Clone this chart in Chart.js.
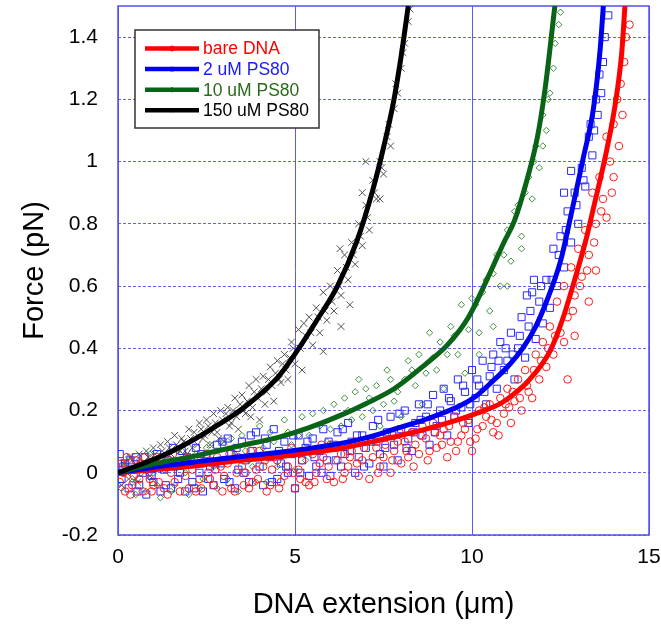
<!DOCTYPE html>
<html><head><meta charset="utf-8">
<script src="https://cdn.jsdelivr.net/npm/chart.js@4"></script>
<style>html,body{margin:0;padding:0;background:#fff;}#wrap{width:661px;height:628px;}</style>
</head><body><div id="wrap"><canvas id="c" width="661" height="628"></canvas></div>
<script>
const seriesLabels = ['bare DNA', '2 uM PS80', '10 uM PS80', '150 uM PS80'];
const xTicks = [0, 5, 10, 15];
const yTicks = [-0.2, 0, 0.2, 0.4, 0.6, 0.8, 1, 1.2, 1.4];

// measured points [extension um, force pN]
const barePts = [[0.05,-0.03],[0.1,0.03],[0.15,0.0],[0.2,-0.06],[0.3,0.01],[0.35,-0.07],[0.4,-0.04],[0.5,0.04],[0.55,0.02],[0.6,-0.02],[0.7,-0.06],[0.75,0.05],[0.85,0.02],[0.95,-0.06],[1.0,-0.04],[1.1,0.05],[1.2,0.02],[1.3,-0.05],[1.4,-0.07],[1.5,0.0],[1.6,-0.03],[1.7,0.03],[1.8,0.04],[1.9,-0.01],[2.0,-0.05],[2.1,0.01],[2.2,-0.06],[2.3,-0.02],[2.4,0.03],[2.5,0.06],[2.6,-0.02],[2.7,-0.04],[2.8,0.05],[2.9,0.02],[3.0,-0.01],[3.1,0.03],[3.2,-0.05],[3.3,-0.06],[3.4,0.05],[3.5,0.02],[3.6,0.0],[3.7,-0.05],[3.8,-0.03],[3.9,0.01],[4.0,0.07],[4.1,0.02],[4.2,-0.06],[4.3,-0.04],[4.4,0.05],[4.5,0.04],[4.6,-0.03],[4.7,-0.01],[4.8,0.02],[4.9,0.08],[5.0,-0.05],[5.1,0.01],[5.2,0.04],[5.3,-0.03],[5.4,-0.04],[5.5,0.06],[5.6,0.0],[5.7,0.03],[5.8,0.05],[5.9,-0.02],[6.0,0.09],[6.1,-0.03],[6.2,0.04],[6.3,0.06],[6.4,0.0],[6.5,0.02],[6.6,0.07],[6.7,0.1],[6.8,-0.01],[6.9,0.04],[7.0,0.1],[7.1,-0.02],[7.2,0.05],[7.3,0.08],[7.4,0.02],[7.5,0.05],[7.6,0.12],[7.7,0.0],[7.8,0.07],[7.9,0.1],[8.0,0.03],[8.1,0.1],[8.2,0.05],[8.3,0.13],[8.4,0.09],[8.5,0.06],[8.6,0.15],[8.7,0.11],[8.8,0.07],[8.9,0.16],[9.0,0.08],[9.1,0.12],[9.2,0.14],[9.3,0.05],[9.4,0.1],[9.5,0.18],[9.6,0.1],[9.7,0.12],[9.8,0.14],[9.9,0.17],[10.0,0.07],[10.1,0.11],[10.2,0.2],[10.3,0.15],[10.4,0.18],[10.5,0.22],[10.6,0.13],[10.7,0.16],[10.8,0.24],[10.9,0.19],[11.0,0.27],[11.05,0.21],[11.1,0.16],[11.2,0.23],[11.3,0.3],[11.4,0.2],[11.5,0.33],[11.6,0.26],[11.7,0.24],[11.8,0.38],[11.9,0.3],[12.0,0.42],[12.1,0.34],[12.2,0.47],[12.3,0.38],[12.4,0.55],[12.5,0.45],[12.6,0.6],[12.7,0.5],[12.7,0.3],[12.8,0.66],[12.9,0.57],[12.9,0.44],[13.0,0.72],[13.1,0.63],[13.2,0.78],[13.3,0.7],[13.3,0.55],[13.4,0.9],[13.5,0.8],[13.5,0.65],[13.6,0.95],[13.7,0.88],[13.8,1.08],[13.8,0.82],[13.9,1.0],[14.0,1.12],[14.0,0.95],[14.1,1.2],[14.2,1.25],[14.3,1.32],[14.35,1.4],[14.45,1.44],
[0.25,0.05],[0.45,-0.01],[0.65,0.03],[0.9,-0.02],[1.15,-0.03],[1.35,0.04],[1.55,0.06],[1.75,-0.06],[1.95,0.05],[2.15,0.03],[2.35,-0.05],[2.55,0.0],[2.75,0.01],[2.95,-0.06],[3.15,0.06],[3.35,0.0],[3.55,-0.04],[3.75,0.07],[3.95,-0.02],[4.15,0.04],[4.35,0.01],[4.55,-0.05],[4.75,0.06],[4.95,0.0],[5.15,-0.02],[5.35,0.07],[5.55,-0.03],[5.75,0.09],[5.95,0.02],[6.15,0.08],[6.35,-0.02],[6.55,0.05],[6.75,0.03],[6.95,0.08],[7.15,0.11],[7.35,0.0],[7.55,0.09],[7.75,0.04],[7.95,0.13],[8.15,0.07],[8.35,0.02],[8.55,0.12],[8.75,0.04],[8.95,0.13],[9.15,0.09],[9.35,0.15],[9.55,0.07],[9.75,0.16],[9.95,0.1],[10.15,0.14],[10.35,0.21],[10.55,0.17],[10.75,0.12],[10.95,0.22],[11.15,0.26],[11.35,0.24],[11.55,0.28],[11.75,0.33],[11.95,0.36],[12.15,0.4],[12.35,0.44],[12.6,0.42],[12.85,0.52],[13.05,0.6],[13.25,0.65],[13.45,0.74],[13.65,0.84],[13.95,0.9],[14.15,1.05],[14.25,1.15]];
const ps2Pts = [[0.05,0.06],[0.1,-0.02],[0.2,0.03],[0.3,-0.05],[0.4,0.01],[0.5,0.05],[0.6,-0.04],[0.7,0.0],[0.8,-0.07],[0.9,0.03],[1.0,-0.03],[1.1,0.06],[1.2,-0.06],[1.3,0.01],[1.4,0.04],[1.5,-0.05],[1.6,0.02],[1.7,-0.02],[1.8,0.07],[1.9,-0.06],[2.0,0.03],[2.1,-0.03],[2.2,0.08],[2.3,0.0],[2.4,-0.06],[2.5,0.05],[2.6,0.02],[2.7,-0.04],[2.8,0.09],[2.9,0.03],[3.0,-0.02],[3.1,0.11],[3.2,0.06],[3.3,-0.05],[3.4,0.01],[3.5,0.1],[3.6,0.04],[3.7,-0.03],[3.8,0.07],[3.9,0.13],[4.0,0.02],[4.1,-0.04],[4.2,0.09],[4.3,0.05],[4.4,0.14],[4.5,-0.02],[4.6,0.03],[4.7,0.1],[4.8,0.0],[4.9,0.06],[5.0,-0.05],[5.1,0.12],[5.2,0.04],[5.3,0.08],[5.4,-0.01],[5.5,0.11],[5.6,0.02],[5.7,0.07],[5.8,0.14],[5.9,0.04],[6.0,-0.01],[6.1,0.09],[6.2,0.13],[6.3,0.02],[6.4,0.06],[6.5,0.16],[6.6,0.1],[6.7,0.0],[6.8,0.05],[6.9,0.12],[7.0,0.08],[7.1,0.03],[7.2,0.15],[7.3,0.1],[7.4,0.06],[7.5,0.02],[7.6,0.13],[7.7,0.18],[7.8,0.09],[7.9,0.04],[8.0,0.14],[8.1,0.2],[8.2,0.11],[8.3,0.07],[8.4,0.16],[8.5,0.22],[8.6,0.12],[8.7,0.18],[8.8,0.09],[8.9,0.25],[9.0,0.15],[9.1,0.2],[9.2,0.27],[9.3,0.12],[9.4,0.23],[9.5,0.18],[9.6,0.3],[9.7,0.21],[9.8,0.26],[9.9,0.16],[10.0,0.33],[10.1,0.24],[10.2,0.28],[10.3,0.36],[10.4,0.22],[10.5,0.31],[10.6,0.38],[10.7,0.27],[10.8,0.42],[10.9,0.33],[11.0,0.36],[11.1,0.45],[11.2,0.3],[11.3,0.4],[11.4,0.5],[11.5,0.37],[11.55,0.57],[11.6,0.47],[11.7,0.58],[11.75,0.62],[11.8,0.43],[11.9,0.55],[12.0,0.48],[12.1,0.62],[12.2,0.53],[12.3,0.72],[12.4,0.6],[12.5,0.76],[12.6,0.66],[12.6,0.9],[12.7,0.84],[12.8,0.74],[12.8,0.97],[12.9,0.9],[13.0,0.8],[13.1,0.98],[13.2,0.92],[13.3,1.08],[13.4,1.02],[13.5,1.2],[13.55,1.15],[13.6,1.28],[13.7,1.32],[13.75,1.4],[13.85,1.47],
[0.15,0.02],[0.35,0.04],[0.55,-0.06],[0.75,0.05],[0.95,-0.01],[1.15,0.02],[1.35,-0.04],[1.55,0.08],[1.75,0.0],[1.95,0.05],[2.15,-0.05],[2.35,0.06],[2.55,-0.02],[2.75,0.03],[2.95,0.1],[3.15,-0.03],[3.35,0.08],[3.55,0.0],[3.75,0.12],[3.95,0.05],[4.15,0.11],[4.35,-0.03],[4.55,0.07],[4.75,0.02],[4.95,0.12],[5.15,0.0],[5.35,0.1],[5.55,0.05],[5.75,0.0],[5.95,0.1],[6.15,0.04],[6.35,0.14],[6.55,0.07],[6.75,0.12],[6.95,0.02],[7.15,0.1],[7.35,0.17],[7.55,0.08],[7.75,0.12],[7.95,0.19],[8.15,0.08],[8.35,0.13],[8.55,0.17],[8.75,0.22],[8.95,0.13],[9.15,0.17],[9.35,0.24],[9.55,0.2],[9.75,0.28],[9.95,0.22],[10.15,0.3],[10.35,0.26],[10.55,0.34],[10.75,0.36],[10.95,0.4],[11.15,0.38],[11.35,0.44],[11.65,0.52],[11.95,0.6],[12.25,0.62],[12.45,0.7],[12.65,0.78],[12.95,0.86],[13.15,0.94],[13.35,1.12],[13.45,1.1],[13.65,1.22]];
const ps10Pts = [[0.1,-0.05],[0.2,0.02],[0.4,-0.03],[0.6,0.04],[0.8,-0.06],[1.0,0.0],[1.2,-0.08],[1.4,0.05],[1.6,-0.04],[1.8,0.03],[2.0,-0.07],[2.2,0.06],[2.4,-0.02],[2.6,0.09],[2.8,-0.05],[3.0,0.04],[3.2,0.11],[3.4,-0.06],[3.6,0.07],[3.8,0.02],[4.0,0.15],[4.2,-0.03],[4.4,0.1],[4.6,0.05],[4.8,0.13],[5.0,0.01],[5.2,0.18],[5.4,0.12],[5.6,0.07],[5.8,0.2],[6.0,0.14],[6.2,0.09],[6.4,0.24],[6.6,0.17],[6.8,0.3],[7.0,0.27],[7.2,0.2],[7.4,0.15],[7.6,0.33],[7.8,0.23],[8.0,0.18],[8.2,0.36],[8.4,0.28],[8.6,0.22],[8.8,0.45],[9.0,0.33],[9.2,0.27],[9.4,0.47],[9.6,0.38],[9.7,0.54],[9.8,0.32],[10.0,0.56],[10.2,0.45],[10.2,0.38],[10.4,0.62],[10.5,0.52],[10.6,0.47],[10.7,0.7],[10.8,0.6],[11.0,0.78],[11.0,0.6],[11.1,0.68],[11.3,0.86],[11.4,0.76],[11.4,0.72],[11.6,0.95],[11.7,0.88],[11.8,1.05],[11.9,0.98],[12.0,1.15],[12.1,1.1],[12.2,1.22],[12.3,1.3],[12.35,1.38],[12.45,1.44],[12.5,1.48],
[0.3,0.05],[0.5,-0.07],[0.7,0.02],[0.9,0.06],[1.1,-0.04],[1.3,0.03],[1.5,-0.06],[1.7,0.07],[1.9,0.0],[2.1,0.04],[2.3,-0.05],[2.5,0.08],[2.7,0.02],[2.9,0.1],[3.1,-0.02],[3.3,0.06],[3.5,0.12],[3.7,0.04],[3.9,-0.03],[4.1,0.08],[4.3,0.13],[4.5,0.02],[4.7,0.17],[4.9,0.09],[5.1,0.12],[5.3,0.04],[5.5,0.19],[5.7,0.15],[5.9,0.1],[6.1,0.22],[6.3,0.15],[6.5,0.2],[6.7,0.26],[6.9,0.18],[7.1,0.24],[7.3,0.28],[7.5,0.22],[7.7,0.3],[7.9,0.26],[8.1,0.3],[8.3,0.33],[8.5,0.38],[8.7,0.32],[8.9,0.37],[9.1,0.42],[9.3,0.38],[9.5,0.44],[9.9,0.46],[10.1,0.54],[10.3,0.58],[10.6,0.64],[10.9,0.7],[11.2,0.84],[11.5,0.9],[11.75,1.0],[12.0,1.05],[12.15,1.2]];
const ps150Pts = [[0.05,0.0],[0.1,-0.04],[0.2,0.03],[0.3,-0.02],[0.35,0.05],[0.45,0.01],[0.55,-0.03],[0.6,0.06],[0.7,0.02],[0.8,0.07],[0.9,-0.01],[1.0,0.08],[1.1,0.04],[1.2,0.09],[1.3,0.01],[1.4,0.1],[1.5,0.06],[1.6,0.12],[1.7,0.03],[1.8,0.11],[1.9,0.07],[2.0,0.14],[2.1,0.08],[2.2,0.05],[2.3,0.16],[2.4,0.11],[2.5,0.17],[2.6,0.09],[2.7,0.19],[2.8,0.13],[2.9,0.2],[3.0,0.1],[3.1,0.21],[3.2,0.16],[3.3,0.24],[3.4,0.14],[3.5,0.25],[3.6,0.19],[3.7,0.28],[3.8,0.21],[3.9,0.3],[4.0,0.17],[4.1,0.31],[4.2,0.26],[4.3,0.34],[4.4,0.23],[4.5,0.36],[4.6,0.29],[4.7,0.38],[4.8,0.3],[4.9,0.42],[5.0,0.35],[5.1,0.46],[5.2,0.33],[5.3,0.44],[5.4,0.5],[5.5,0.41],[5.6,0.53],[5.7,0.45],[5.8,0.58],[5.8,0.39],[5.9,0.49],[6.0,0.6],[6.1,0.52],[6.2,0.65],[6.27,0.72],[6.3,0.47],[6.3,0.57],[6.4,0.7],[6.5,0.62],[6.55,0.54],[6.6,0.74],[6.7,0.67],[6.8,0.8],[6.9,0.73],[6.9,0.9],[7.0,0.86],[7.0,1.0],[7.1,0.78],[7.2,0.94],[7.3,0.88],[7.4,1.0],[7.4,0.88],[7.5,0.96],[7.6,1.08],[7.7,1.05],[7.8,1.17],[7.9,1.22],[8.0,1.3],[8.1,1.38],[8.2,1.45],[8.25,1.49],
[0.15,0.03],[0.25,0.0],[0.4,0.04],[0.5,-0.02],[0.65,0.03],[0.75,0.0],[0.85,0.05],[0.95,0.03],[1.05,0.06],[1.15,0.02],[1.25,0.07],[1.35,0.05],[1.45,0.08],[1.55,0.03],[1.65,0.09],[1.75,0.07],[1.85,0.1],[1.95,0.06],[2.05,0.11],[2.15,0.13],[2.25,0.09],[2.35,0.14],[2.45,0.12],[2.55,0.15],[2.65,0.13],[2.75,0.16],[2.85,0.11],[2.95,0.17],[3.05,0.19],[3.15,0.15],[3.25,0.2],[3.35,0.18],[3.45,0.22],[3.55,0.2],[3.65,0.23],[3.75,0.18],[3.85,0.26],[3.95,0.24],[4.05,0.27],[4.15,0.22],[4.25,0.3],[4.35,0.28],[4.45,0.32],[4.55,0.3],[4.65,0.35],[4.75,0.33],[4.85,0.37],[4.95,0.4],[5.15,0.4],[5.25,0.48],[5.45,0.45],[5.65,0.5],[5.85,0.52],[6.05,0.55],[6.25,0.6],[6.45,0.66],[6.65,0.7],[6.85,0.76],[7.05,0.82],[7.25,0.9],[7.45,0.98],[7.65,1.12],[7.85,1.25],[8.05,1.35]];

// fitted curves
const bareFitX = [0,1,2,2.6,3.5,4.5,5.5,6.4,7.2,7.8,8.7,9.66,10.2,10.8,11.2,11.55,12.2,12.55,12.9,13.2,13.43,13.81,14.04,14.23,14.32];
const bareFitF = [0,0.01,0.02,0.028,0.04,0.051,0.065,0.081,0.1,0.115,0.14,0.172,0.194,0.222,0.255,0.29,0.39,0.49,0.62,0.74,0.85,1.04,1.18,1.35,1.5];
const ps2FitX = [0,1,2,2.6,3.5,4.5,5.5,6.4,7.0,7.8,8.7,9.66,10.1,10.6,11.0,11.45,11.8,12.11,12.5,12.8,13.14,13.43,13.62,13.71];
const ps2FitF = [0,0.018,0.032,0.041,0.052,0.065,0.08,0.097,0.112,0.14,0.172,0.215,0.245,0.296,0.34,0.403,0.47,0.552,0.68,0.83,1.01,1.17,1.36,1.5];
const ps10FitX = [0,0.6,1.3,2.0,2.6,3.5,4.5,5.4,6.4,7.0,7.8,8.7,9.3,9.9,10.5,10.9,11.2,11.55,11.85,12.06,12.2,12.34];
const ps10FitF = [0,0.018,0.035,0.05,0.065,0.088,0.113,0.145,0.19,0.222,0.27,0.35,0.41,0.5,0.64,0.74,0.81,0.94,1.08,1.23,1.36,1.5];
const ps150FitX = [0,0.6,1.2,1.8,2.6,3.5,4.5,5.05,5.6,6.2,6.75,7.2,7.5,7.78,8.0,8.2];
const ps150FitF = [0,0.025,0.052,0.085,0.138,0.205,0.305,0.39,0.487,0.6,0.745,0.91,1.045,1.19,1.34,1.5];

const FONT = "'Liberation Sans', Arial, Helvetica, sans-serif";
Chart.defaults.font.family = FONT;
const toXY = pts => pts.map(p => ({x: p[0], y: p[1]}));
const toFit = (xs, fs) => xs.map((x, i) => ({x: x, y: fs[i]}));

const styles = [
  {line: '#ff0000', pt: '#ff1a1a', text: '#ff0000', marker: 'circle', r: 3.8},
  {line: '#0000f0', pt: '#2a2aff', text: '#1a1aff', marker: 'rect', r: 5},
  {line: '#0a6418', pt: '#3f8f3f', text: '#2a6a1a', marker: 'rectRot', r: 3.2},
  {line: '#000000', pt: '#505050', text: '#000000', marker: 'crossRot', r: 4.8}
];
const ptsList = [barePts, ps2Pts, ps10Pts, ps150Pts];
const fitList = [[bareFitX, bareFitF], [ps2FitX, ps2FitF], [ps10FitX, ps10FitF], [ps150FitX, ps150FitF]];

const datasets = [];
const scatterOrder = [20, 21, 22, 23]; // higher drawn first
ptsList.forEach((p, i) => {
  datasets.push({
    label: seriesLabels[i] + ' data', data: toXY(p), showLine: false,
    pointStyle: styles[i].marker, pointRadius: styles[i].r, pointBorderWidth: 1,
    pointBorderColor: styles[i].pt, pointBackgroundColor: 'rgba(0,0,0,0)',
    borderColor: styles[i].pt, backgroundColor: 'rgba(0,0,0,0)', order: scatterOrder[i]
  });
});
const lineOrder = [4, 3, 2, 1];
fitList.forEach((f, i) => {
  datasets.push({
    label: seriesLabels[i], isFit: true, legendColor: styles[i].text, legendMarker: styles[i].marker,
    data: toFit(f[0], f[1]), showLine: true, borderColor: styles[i].line, backgroundColor: styles[i].line,
    borderWidth: 5, pointRadius: 0, cubicInterpolationMode: 'monotone', order: lineOrder[i]
  });
});

const frameAndLegend = {
  id: 'frameAndLegend',
  beforeDatasetsDraw(chart) {
    const a = chart.chartArea, ctx = chart.ctx;
    ctx.save();
    ctx.strokeStyle = 'rgb(80,80,240)';
    ctx.lineWidth = 1.5;
    ctx.strokeRect(a.left, a.top, a.right - a.left, a.bottom - a.top);
    ctx.restore();
  },
  afterDatasetsDraw(chart) {
    const ctx = chart.ctx;
    const fits = chart.data.datasets.filter(d => d.isFit);
    const x0 = 135, y0 = 30, w = 184, h = 98;
    ctx.save();
    ctx.fillStyle = '#ffffff';
    ctx.fillRect(x0, y0, w, h);
    ctx.lineWidth = 1.5;
    ctx.strokeStyle = '#333333';
    ctx.strokeRect(x0, y0, w, h);
    fits.forEach((d, i) => {
      const y = 48.5 + i * 20.6;
      ctx.strokeStyle = d.borderColor;
      ctx.lineWidth = 4.5;
      ctx.beginPath(); ctx.moveTo(145, y); ctx.lineTo(199, y); ctx.stroke();
      ctx.strokeStyle = d.borderColor;
      ctx.fillStyle = 'rgba(0,0,0,0)';
      ctx.lineWidth = 1;
      Chart.helpers.drawPoint(ctx, {pointStyle: d.legendMarker, radius: 2.5, borderWidth: 1, rotation: 0}, 172, y);
      ctx.fillStyle = d.legendColor;
      ctx.font = '17.5px ' + FONT;
      ctx.textBaseline = 'middle';
      ctx.textAlign = 'left';
      ctx.fillText(d.label, 203, y + 1);
    });
    ctx.restore();
  }
};

new Chart(document.getElementById('c'), {
  type: 'scatter',
  data: {datasets: datasets},
  plugins: [frameAndLegend],
  options: {
    responsive: false, animation: false, devicePixelRatio: 1,
    layout: {padding: {left: 0, top: 3, right: 0, bottom: 0}},
    plugins: {legend: {display: false}, tooltip: {enabled: false}},
    scales: {
      x: {
        type: 'linear', min: 0, max: 15,
        afterBuildTicks: s => { s.ticks = xTicks.map(v => ({value: v})); },
        afterFit: s => { s.height = 93; s.paddingRight = 12; s.paddingLeft = 0; },
        ticks: {font: {size: 21}, color: '#000', padding: 10, autoSkip: false, maxRotation: 0},
        grid: {color: 'rgb(90,90,245)', lineWidth: 1, drawTicks: false},
        border: {display: false},
        title: {display: true, text: 'DNA extension (\u03bcm)', color: '#000', font: {size: 29, lineHeight: 1}, padding: {top: 8.5, bottom: 8.5}}
      },
      y: {
        type: 'linear', min: -0.2, max: 1.5,
        afterBuildTicks: s => { s.ticks = yTicks.map(v => ({value: v})); },
        afterFit: s => { s.width = 118; s.paddingTop = 0; s.paddingBottom = 0; },
        ticks: {font: {size: 21}, color: '#000', padding: 20, callback: v => String(Math.round(v * 10) / 10)},
        grid: {color: 'rgba(70,70,235,0.85)', lineWidth: 1, drawTicks: false},
        border: {display: false, dash: [3, 2]},
        title: {display: true, text: 'Force (pN)', color: '#000', font: {size: 29, lineHeight: 1}, padding: {top: 20.5, bottom: 20.5}}
      }
    }
  }
});
</script>
</body></html>
